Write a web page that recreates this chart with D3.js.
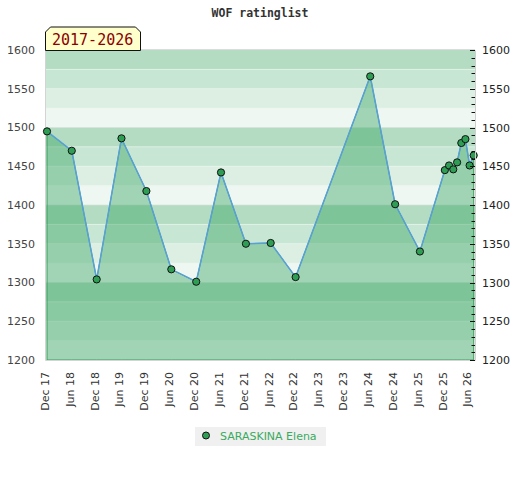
<!DOCTYPE html>
<html>
<head>
<meta charset="utf-8">
<script src="https://cdn.jsdelivr.net/npm/d3@7"></script>
<style>
  body { margin: 0; background: #fff; }
  svg { display: block; }
</style>
</head>
<body>
<div id="chart"></div>
<script>
// rating history, one entry per list
const months = ["2017-12", "2018-06", "2018-12", "2019-06", "2019-12", "2020-06", "2020-12",
    "2021-06", "2021-12", "2022-06", "2022-12", "2024-06", "2024-12", "2025-06",
    "2025-12", "2026-01", "2026-02", "2026-03", "2026-04", "2026-05", "2026-06", "2026-07"]
const ratings = [1495, 1470, 1304, 1486, 1418, 1317, 1301, 1442, 1350, 1351, 1307, 1566,
    1401, 1340, 1445, 1451, 1446, 1455, 1480, 1485, 1451, 1464]
const tickMonths = ["2017-12", "2018-06", "2018-12", "2019-06", "2019-12", "2020-06", "2020-12",
    "2021-06", "2021-12", "2022-06", "2022-12", "2023-06", "2023-12", "2024-06", "2024-12",
    "2025-06", "2025-12", "2026-06"]
const yTicks = [1200, 1250, 1300, 1350, 1400, 1450, 1500, 1550, 1600]
const playerName = "SARASKINA Elena"
const chartTitle = "WOF ratinglist"
const periodLabel = "2017-2026"

const W = 520, H = 480
const plotLeft = 45, plotRight = 475, plotTop = 50, plotBottom = 360

const parse = d3.timeParse("%Y-%m")
const data = months.map((m, i) => ({ date: parse(m), rating: ratings[i] }))

const x = d3.scaleTime()
    .domain([parse("2017-12"), parse("2026-07")])
    .range([47, 473.7])
const y = d3.scaleLinear().domain([1200, 1600]).range([plotBottom, plotTop])

const svg = d3.select("#chart").append("svg")
    .attr("width", W)
    .attr("height", H)

// title
svg.append("text")
    .attr("x", 260).attr("y", 17)
    .attr("text-anchor", "middle")
    .style("font-family", "DejaVu Sans Mono")
    .style("font-weight", "bold")
    .style("font-size", "11.5px")
    .style("fill", "#333")
    .text(chartTitle)

// background bands, 25 points each, dark to light inside every 100
const bandColors = ["#b3dcc2", "#c7e6d3", "#dcefe2", "#eff7f2"]
const bands = d3.range(1600, 1200, -25)
svg.append("g").selectAll("rect")
    .data(bands)
    .enter()
    .append("rect")
    .attr("x", plotLeft)
    .attr("width", plotRight - plotLeft)
    .attr("y", d => y(d))
    .attr("height", d => y(d - 25) - y(d))
    .style("fill", (d, i) => bandColors[i % 4])

svg.append("g").selectAll("line")
    .data(bands.slice(1))
    .enter()
    .append("line")
    .attr("x1", plotLeft).attr("x2", plotRight)
    .attr("y1", d => y(d)).attr("y2", d => y(d))
    .style("stroke", (d, i) => (i % 4 == 3) ? "#d6e3da" : "#e8f3ec")
    .style("stroke-opacity", 0.7)
    .style("stroke-width", 1)

// filled area under the line
const area = d3.area()
    .x(d => x(d.date))
    .y0(y(1200))
    .y1(d => y(d.rating))

svg.append("path")
    .datum(data)
    .attr("d", area)
    .style("fill", "rgb(45,161,89)")
    .style("fill-opacity", 0.4)
    .style("stroke", "#3a9e5c")
    .style("stroke-width", 1)

// plot frame
svg.append("path")
    .attr("d", `M${plotLeft + 0.5},${plotTop}V${plotBottom + 0.5}H${plotRight}`)
    .style("fill", "none")
    .style("stroke", "#d4d4d4")
svg.append("line")
    .attr("x1", plotLeft).attr("x2", plotRight)
    .attr("y1", plotTop - 0.5).attr("y2", plotTop - 0.5)
    .style("stroke", "#dcdcdc")

const line = d3.line()
    .x(d => x(d.date))
    .y(d => y(d.rating))

svg.append("path")
    .datum(data)
    .attr("d", line)
    .style("fill", "none")
    .style("stroke", "#5aa0d8")
    .style("stroke-width", 1.5)

svg.append("g").selectAll("circle")
    .data(data)
    .enter()
    .append("circle")
    .attr("cx", d => x(d.date))
    .attr("cy", d => y(d.rating))
    .attr("r", 3.6)
    .style("fill", "#2f9e55")
    .style("stroke", "#111")
    .style("stroke-width", 1)

// left axis labels
svg.append("g").selectAll("text")
    .data(yTicks)
    .enter()
    .append("text")
    .attr("x", 35)
    .attr("y", d => y(d))
    .attr("dy", "0.35em")
    .attr("text-anchor", "end")
    .style("font-family", "DejaVu Sans")
    .style("font-size", "11px")
    .style("fill", "#444")
    .text(d => d)

// right axis with minor ticks
const rightAxis = d3.axisRight(y)
    .tickValues(yTicks)
    .tickSize(0)
    .tickPadding(7)
    .tickFormat(d3.format("d"))
const ra = svg.append("g")
    .attr("transform", `translate(${plotRight},0)`)
    .call(rightAxis)
ra.select(".domain").style("stroke", "#cfcfcf")
ra.selectAll("text")
    .style("font-family", "DejaVu Sans")
    .style("font-size", "11px")
    .style("fill", "#222")

svg.append("g").selectAll("line")
    .data(d3.range(1200, 1601, 10))
    .enter()
    .append("line")
    .attr("x1", d => d % 50 == 0 ? plotRight - 5 : plotRight - 3.5)
    .attr("x2", plotRight)
    .attr("y1", d => Math.round(y(d)) + 0.5)
    .attr("y2", d => Math.round(y(d)) + 0.5)
    .style("stroke", "#111")
    .style("stroke-width", 1)

// bottom date labels, rotated
const fmt = d3.timeFormat("%b %y")
svg.append("g").selectAll("text")
    .data(tickMonths.map(parse))
    .enter()
    .append("text")
    .attr("transform", d => `translate(${x(d) - 2},372)rotate(-90)`)
    .attr("dy", "0.35em")
    .attr("text-anchor", "end")
    .style("font-family", "DejaVu Sans")
    .style("font-size", "11px")
    .style("fill", "#333")
    .text(d => fmt(d))

// period tab
svg.append("path")
    .attr("d", "M45.5,50.5V32L50.5,27H135.5L140.5,32V50.5Z")
    .style("fill", "#ffffcc")
    .style("stroke", "#111")
    .style("stroke-width", 1)
svg.append("text")
    .attr("x", 52).attr("y", 45)
    .style("font-family", "DejaVu Sans Mono")
    .style("font-size", "15px")
    .style("fill", "#8b0000")
    .text(periodLabel)

// legend
const lg = svg.append("g")
lg.append("rect")
    .attr("x", 195).attr("y", 427)
    .attr("width", 131).attr("height", 19)
    .style("fill", "#f0f0f0")
lg.append("circle")
    .attr("cx", 206).attr("cy", 435.5)
    .attr("r", 3.5)
    .style("fill", "#2f9e55")
    .style("stroke", "#111")
lg.append("text")
    .attr("x", 220).attr("y", 440)
    .style("font-family", "DejaVu Sans")
    .style("font-size", "11px")
    .style("fill", "#3aaa5f")
    .text(playerName)
</script>
</body>
</html>
